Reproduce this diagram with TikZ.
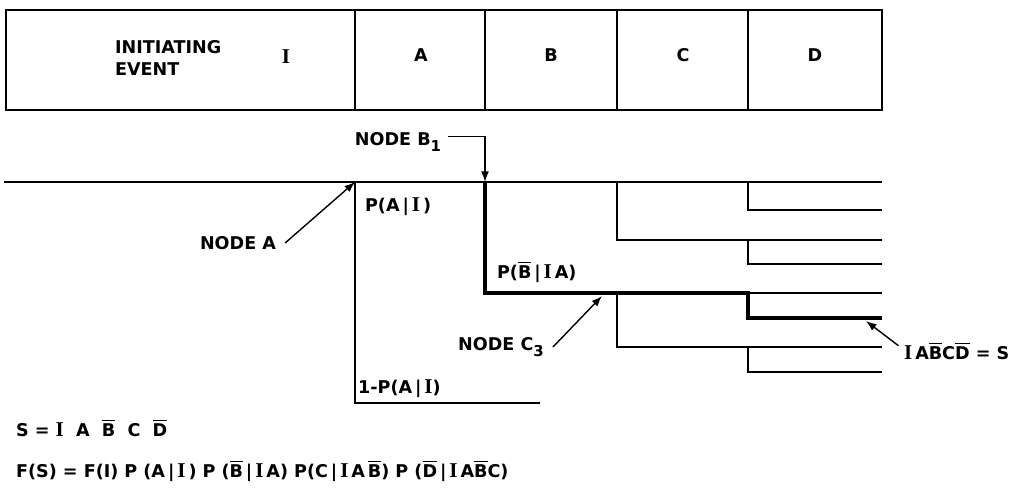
\documentclass[tikz,border=0pt]{standalone}
\usepackage{fontspec}
\setmainfont{DejaVu Sans}
\newfontfamily\romI{Liberation Serif}
\usetikzlibrary{positioning, arrows.meta}
\newcommand{\ovl}[1]{\ensuremath{\overline{\hbox{#1}}}}
\newcommand{\ri}{{\romI\bfseries\large I}}
\newcommand{\lowsub}[1]{\raisebox{-3.5pt}{\fontsize{8.5}{9}\selectfont #1}}

\begin{document}
\begin{tikzpicture}[x=0.02cm, y=-0.02cm,
    lbl/.style={font=\bfseries\fontsize{10}{12.5}\selectfont, inner sep=1pt},
    branch/.style={line width=1.1pt},
    success/.style={line width=1.8pt},
    pointer/.style={line width=0.8pt, -{Latex[length=6pt, width=4.5pt]}}]
    \useasboundingbox (0,0) rectangle (1017,495);
    \draw[branch] (6,10) rectangle (882,110);
    \foreach \x in {355,485,617,748}
        \draw[branch] (\x,10) -- (\x,110);
    \node[lbl, align=left, anchor=west] (hdrIE) at (113,58) {INITIATING\\EVENT};
    \node[lbl, font=\romI\bfseries\fontsize{12}{12}\selectfont] (hdrI) at (286,57) {I};
    \node[lbl] (hdrA) at (421,55) {A};
    \node[lbl] (hdrB) at (551,55) {B};
    \node[lbl] (hdrC) at (683,55) {C};
    \node[lbl] (hdrD) at (815,55) {D};

    \coordinate (start) at (4,182);
    \coordinate (nA) at (355,182);
    \coordinate (nB1) at (485,182);
    \coordinate (nC1) at (617,182);
    \coordinate (nC3) at (617,293);
    \coordinate (nD1) at (748,182);
    \coordinate (nD3) at (748,240);
    \coordinate (nD5) at (748,293);
    \coordinate (nD7) at (748,347);
    \coordinate (endA) at (540,403);
    \coordinate (pC3) at (602,296);
    \coordinate (pS) at (866,321);

    \draw[branch] (start) -- (nB1) -- (882,182);
    \draw[branch] (nA) |- (endA);
    \draw[success] (nB1) |- (nC3) -- (nD5) |- (882,318);
    \draw[branch] (nD5) -- (882,293);
    \draw[branch] (nC1) |- (nD3) -- (882,240);
    \draw[branch] (nC3) |- (nD7) -- (882,347);
    \foreach \d/\y in {nD1/210, nD3/264, nD7/372}
        \draw[branch] (\d) |- (882,\y);

    \node[lbl, anchor=west] (pAI) at (363,207) {P(A\,|\,\ri\,)};
    \node[lbl, anchor=west] (pBIA) at (495,272) {P(\ovl{B}\,|\,\ri\,A)};
    \node[lbl, anchor=west] (qAI) at (356,389) {1-P(A\,|\,\ri)};

    \node[lbl] (lblA) at (238,243) {NODE A};
    \node[lbl] (lblB1) at (398,142) {NODE B\lowsub{1}};
    \node[lbl] (lblC3) at (501,347) {NODE C\lowsub{3}};
    \node[lbl, anchor=west] (lblS) at (902,351) {\ri\,A\ovl{B}C\ovl{D} = S};
    \draw[pointer] ([xshift=4pt]lblA.east) -- (nA);
    \draw[pointer] ([xshift=3pt,yshift=3pt]lblB1.east) -| (nB1);
    \draw[pointer] ([xshift=4pt]lblC3.east) -- (pC3);
    \draw[pointer] ([xshift=-2pt,yshift=3pt]lblS.west) -- (pS);

    \node[lbl, anchor=west] (eqS) at (14,428) {S = \ri\ \ A \ \ovl{B} \ C \ \ovl{D}};
    \node[lbl, anchor=west] (eqF) at (14,471)
        {F(S) = F(I) P (A\,|\,\ri\,) P (\ovl{B}\,|\,\ri\,A) P(C\,|\,\ri\,A\,\ovl{B}) P (\ovl{D}\,|\,\ri\,A\ovl{B}C)};
\end{tikzpicture}
\end{document}
